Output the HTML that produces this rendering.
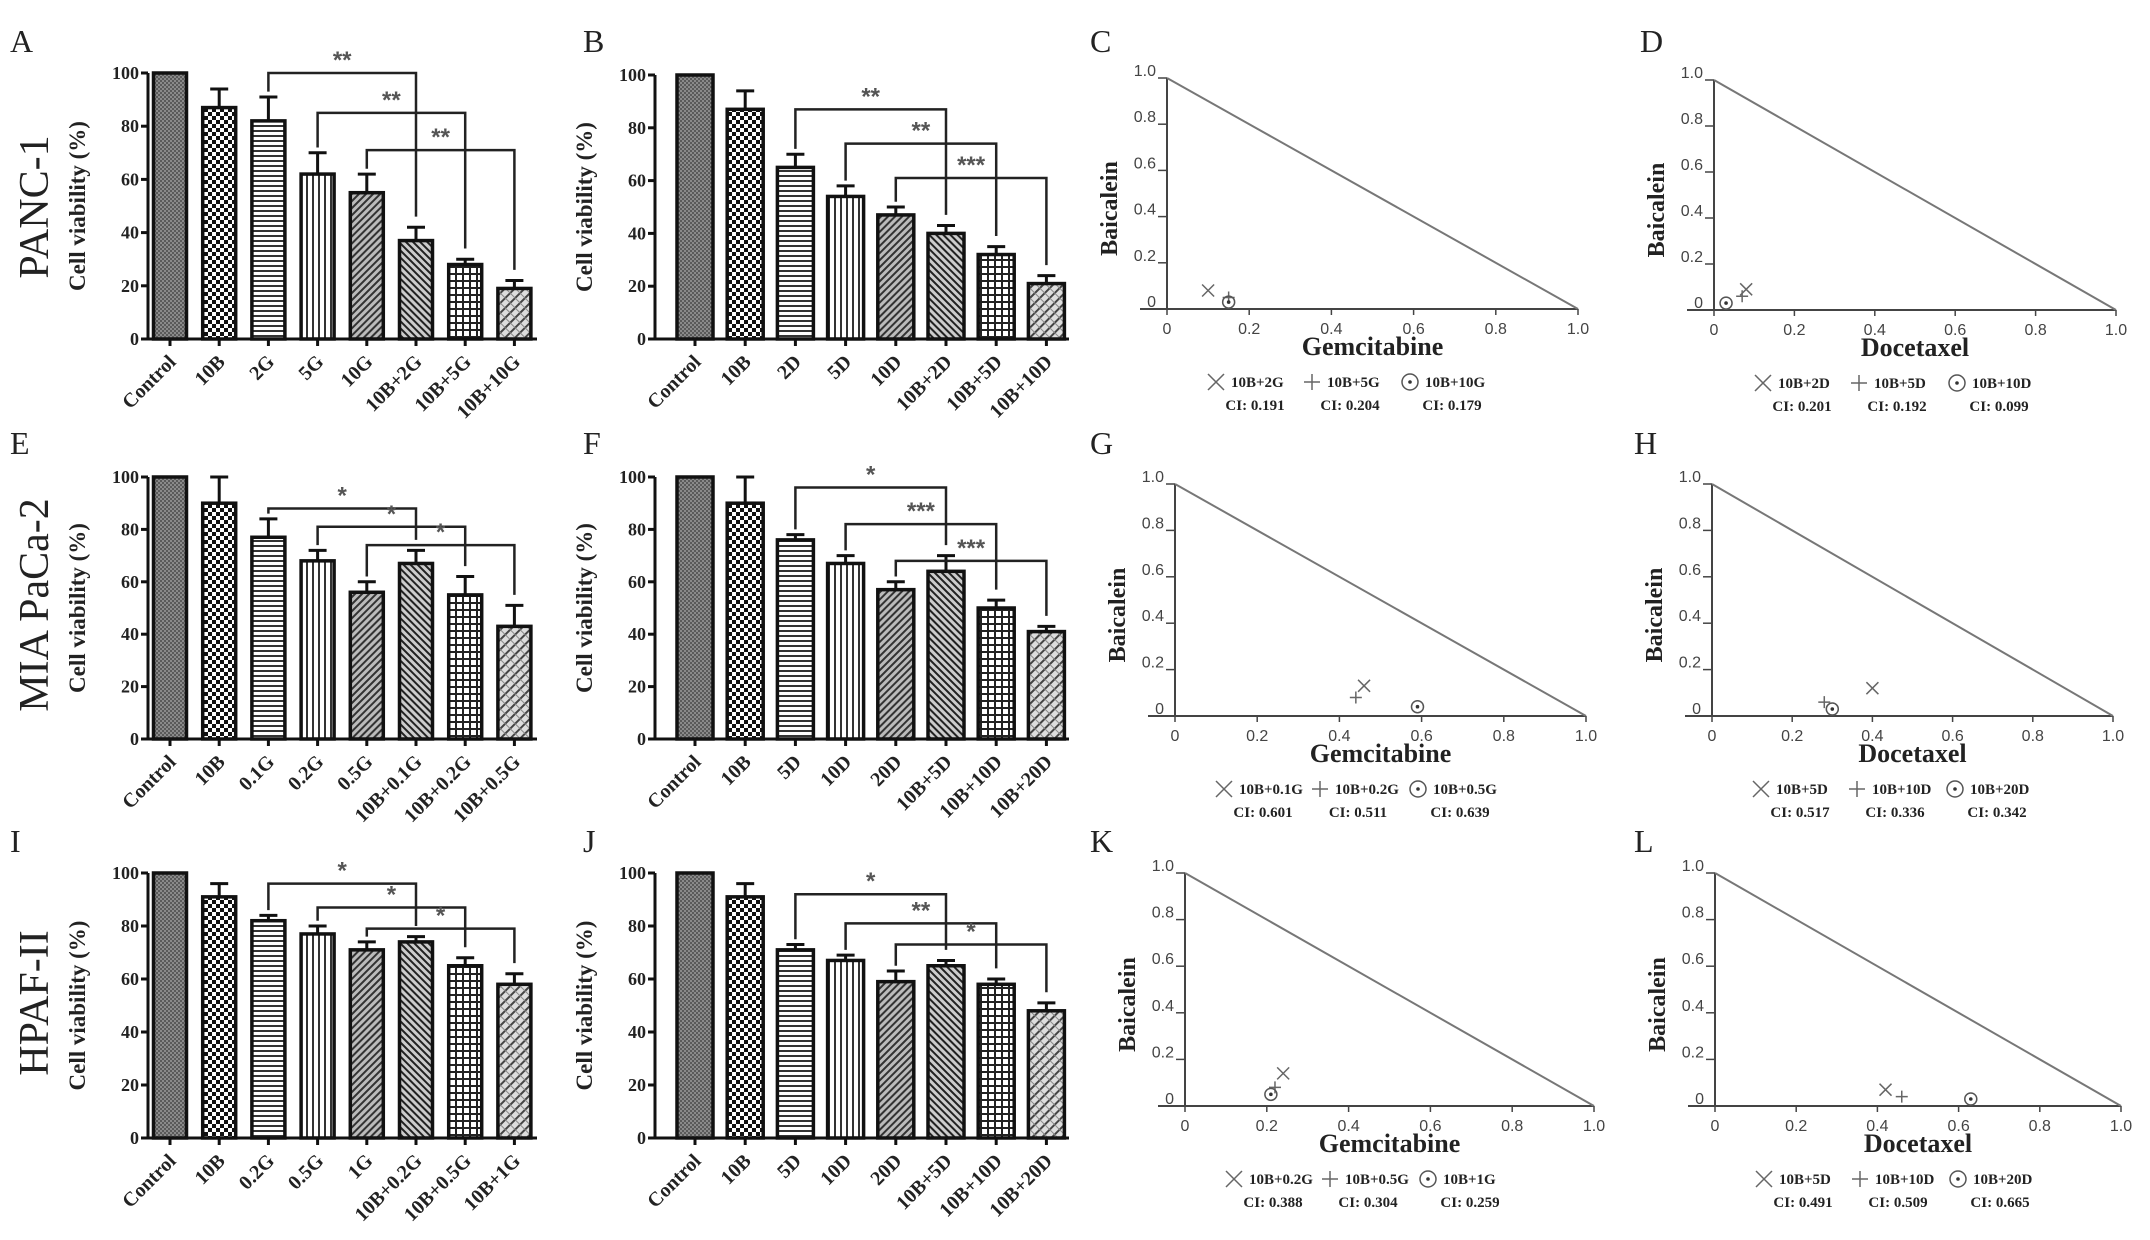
<!DOCTYPE html>
<html><head><meta charset="utf-8">
<style>
html,body{margin:0;padding:0;background:#fff;}
svg{display:block;}
</style></head>
<body>
<svg id="fig" width="2150" height="1240" viewBox="0 0 2150 1240" xmlns="http://www.w3.org/2000/svg">
<defs>
<pattern id="p0" width="4" height="4" patternUnits="userSpaceOnUse"><rect width="4" height="4" fill="#8a8a8a"/><rect width="2" height="2" fill="#5a5a5a"/><rect x="2" y="2" width="2" height="2" fill="#5a5a5a"/></pattern>
<pattern id="p1" width="8" height="8" patternUnits="userSpaceOnUse"><rect width="8" height="8" fill="#fff"/><rect width="4" height="4" fill="#111"/><rect x="4" y="4" width="4" height="4" fill="#111"/></pattern>
<pattern id="p2" width="6" height="5" patternUnits="userSpaceOnUse"><rect width="6" height="5" fill="#fff"/><rect width="6" height="2" fill="#333"/></pattern>
<pattern id="p3" width="6" height="6" patternUnits="userSpaceOnUse"><rect width="6" height="6" fill="#fff"/><rect width="2" height="6" fill="#333"/></pattern>
<pattern id="p4" width="5" height="5" patternUnits="userSpaceOnUse" patternTransform="rotate(45)"><rect width="5" height="5" fill="#bbb"/><rect width="2" height="5" fill="#333"/></pattern>
<pattern id="p5" width="5" height="5" patternUnits="userSpaceOnUse" patternTransform="rotate(-45)"><rect width="5" height="5" fill="#ccc"/><rect width="2" height="5" fill="#222"/></pattern>
<pattern id="p6" width="7" height="7" patternUnits="userSpaceOnUse"><rect width="7" height="7" fill="#fff"/><rect width="2" height="7" fill="#222"/><rect width="7" height="2" fill="#222"/></pattern>
<pattern id="p7" width="7" height="7" patternUnits="userSpaceOnUse" patternTransform="rotate(45)"><rect width="7" height="7" fill="#ddd"/><rect width="2" height="7" fill="#444"/><rect width="7" height="1" fill="#888"/></pattern>
</defs>
<g id="root"></g>
</svg>
<script>
// ---------- bar chart data ----------
const catsA = ["Control","10B","2G","5G","10G","10B+2G","10B+5G","10B+10G"];
const valsA = [100,87,82,62,55,37,28,19];
const errA  = [0,7,9,8,7,5,2,3];
const sigA  = [[2,5,100,"**"],[3,6,85,"**"],[4,7,71,"**"]];

const catsB = ["Control","10B","2D","5D","10D","10B+2D","10B+5D","10B+10D"];
const valsB = [100,87,65,54,47,40,32,21];
const errB  = [0,7,5,4,3,3,3,3];
const sigB  = [[2,5,87,"**"],[3,6,74,"**"],[4,7,61,"***"]];

const catsE = ["Control","10B","0.1G","0.2G","0.5G","10B+0.1G","10B+0.2G","10B+0.5G"];
const valsE = [100,90,77,68,56,67,55,43];
const errE  = [0,10,7,4,4,5,7,8];
const sigE  = [[2,5,88,"*"],[3,6,81,"*"],[4,7,74,"*"]];

const catsF = ["Control","10B","5D","10D","20D","10B+5D","10B+10D","10B+20D"];
const valsF = [100,90,76,67,57,64,50,41];
const errF  = [0,10,2,3,3,6,3,2];
const sigF  = [[2,5,96,"*"],[3,6,82,"***"],[4,7,68,"***"]];

const catsI = ["Control","10B","0.2G","0.5G","1G","10B+0.2G","10B+0.5G","10B+1G"];
const valsI = [100,91,82,77,71,74,65,58];
const errI  = [0,5,2,3,3,2,3,4];
const sigI  = [[2,5,96,"*"],[3,6,87,"*"],[4,7,79,"*"]];

const catsJ = ["Control","10B","5D","10D","20D","10B+5D","10B+10D","10B+20D"];
const valsJ = [100,91,71,67,59,65,58,48];
const errJ  = [0,5,2,2,4,2,2,3];
const sigJ  = [[2,5,92,"*"],[3,6,81,"**"],[4,7,73,"*"]];

const yTicks = [0,20,40,60,80,100];

// ---------- isobologram data ----------
const isoTicks = [0,0.2,0.4,0.6,0.8,1.0];
const isoTickLabels = ["0","0.2","0.4","0.6","0.8","1.0"];
const isoC_x=[0.10,0.15,0.15], isoC_y=[0.08,0.05,0.03], isoC_lab=["10B+2G","10B+5G","10B+10G"], isoC_ci=["CI: 0.191","CI: 0.204","CI: 0.179"];
const isoD_x=[0.08,0.07,0.03], isoD_y=[0.09,0.06,0.03], isoD_lab=["10B+2D","10B+5D","10B+10D"], isoD_ci=["CI: 0.201","CI: 0.192","CI: 0.099"];
const isoG_x=[0.46,0.44,0.59], isoG_y=[0.13,0.08,0.04], isoG_lab=["10B+0.1G","10B+0.2G","10B+0.5G"], isoG_ci=["CI: 0.601","CI: 0.511","CI: 0.639"];
const isoH_x=[0.40,0.28,0.30], isoH_y=[0.12,0.06,0.03], isoH_lab=["10B+5D","10B+10D","10B+20D"], isoH_ci=["CI: 0.517","CI: 0.336","CI: 0.342"];
const isoK_x=[0.24,0.22,0.21], isoK_y=[0.14,0.08,0.05], isoK_lab=["10B+0.2G","10B+0.5G","10B+1G"], isoK_ci=["CI: 0.388","CI: 0.304","CI: 0.259"];
const isoL_x=[0.42,0.46,0.63], isoL_y=[0.07,0.04,0.03], isoL_lab=["10B+5D","10B+10D","10B+20D"], isoL_ci=["CI: 0.491","CI: 0.509","CI: 0.665"];

const NS="http://www.w3.org/2000/svg";
const root=document.getElementById('root');
function mk(tag,attrs,parent,txt){const e=document.createElementNS(NS,tag);for(const k in attrs)e.setAttribute(k,attrs[k]);if(txt!==undefined)e.textContent=txt;(parent||root).appendChild(e);return e;}
const SERIF='"Liberation Serif", serif', SANS='"Liberation Sans", sans-serif';

function barPanel(name,cats,vals,errs,sigs,L){
  const g=mk('g',{});
  
  
  const y=v=>L.y0-(v/100)*(L.y0-L.y100);
  const cx=i=>L.c0+i*L.sp;
  vals.forEach((v,i)=>{
    const r=mk('rect',{x:cx(i)-L.bw/2,y:y(v),width:L.bw,height:L.y0-y(v),fill:'url(#p'+i+')',stroke:'#111','stroke-width':3.5},g);
    
    
    if(errs[i]>0){
      mk('line',{x1:cx(i),x2:cx(i),y1:y(v),y2:y(v+errs[i]),stroke:'#111','stroke-width':3},g);
      mk('line',{x1:cx(i)-9,x2:cx(i)+9,y1:y(v+errs[i]),y2:y(v+errs[i]),stroke:'#111','stroke-width':3},g);
    }
  });
  mk('line',{x1:L.ax,x2:L.ax,y1:L.y100,y2:L.y0,stroke:'#111','stroke-width':3},g);
  mk('line',{x1:L.ax,x2:L.xEnd,y1:L.y0,y2:L.y0,stroke:'#111','stroke-width':3},g);
  yTicks.forEach(t=>{
    mk('line',{x1:L.ax-7,x2:L.ax,y1:y(t),y2:y(t),stroke:'#111','stroke-width':3},g);
    mk('text',{x:L.ax-9,y:y(t)+6,'text-anchor':'end','font-family':SERIF,'font-weight':'bold','font-size':18,fill:'#222'},g,String(t));
  });
  cats.forEach((c,i)=>{
    mk('line',{x1:cx(i),x2:cx(i),y1:L.y0,y2:L.y0+7,stroke:'#111','stroke-width':3},g);
    const t=mk('text',{x:cx(i)+7,y:L.y0+24,'text-anchor':'end','font-family':SERIF,'font-weight':'bold','font-size':20,fill:'#222',transform:`rotate(-45 ${cx(i)+7} ${L.y0+24})`},g,c);
    
    
  });
  const tx=L.ax-63, ty=(L.y0+L.y100)/2;
  const yt=mk('text',{x:tx,y:ty,'text-anchor':'middle','font-family':SERIF,'font-weight':'bold','font-size':23,fill:'#222',transform:`rotate(-90 ${tx} ${ty})`},g,'Cell viability (%)');
  
  
  sigs.forEach(s=>{
    const [i,j,lev,lab]=s;
    const yl=y(lev);
    const b=mk('path',{d:`M${cx(i)},${y(vals[i]+errs[i]+2)}V${yl}H${cx(j)}V${y(vals[j]+errs[j]+4)}`,fill:'none',stroke:'#222','stroke-width':2.5},g);
    
    
    mk('text',{x:(cx(i)+cx(j))/2,y:yl-5,'text-anchor':'middle','font-family':SANS,'font-weight':'bold','font-size':24,fill:'#555'},g,lab);
  });
}

function isoPanel(name,xs,ys,labs,cis,xlabel,L){
  const g=mk('g',{});
  
  
  const X=v=>L.x0+v*(L.x1-L.x0);
  const Y=v=>L.y0-v*(L.y0-L.y1);
  mk('line',{x1:X(0),x2:X(0),y1:Y(1),y2:Y(0),stroke:'#444','stroke-width':2},g);
  mk('line',{x1:X(0)-27,x2:X(1),y1:Y(0),y2:Y(0),stroke:'#444','stroke-width':2},g);
  const ln=mk('line',{x1:X(0),y1:Y(1),x2:X(1),y2:Y(0),stroke:'#777','stroke-width':2},g);
  
  
  isoTicks.forEach((t,k)=>{
    if(k>0){mk('line',{x1:X(0)-9,x2:X(0),y1:Y(t),y2:Y(t),stroke:'#444','stroke-width':1.5},g);}
    mk('text',{x:X(0)-11,y:Y(t)-2,'text-anchor':'end','font-family':SANS,'font-size':16,fill:'#444'},g,isoTickLabels[k]);
    mk('line',{x1:X(t),x2:X(t),y1:Y(0),y2:Y(0)+6,stroke:'#444','stroke-width':1.5},g);
    mk('text',{x:X(t),y:Y(0)+25,'text-anchor':'middle','font-family':SANS,'font-size':16,fill:'#444'},g,isoTickLabels[k]);
  });
  const xt=mk('text',{x:(X(0)+X(1))/2,y:Y(0)+46,'text-anchor':'middle','font-family':SERIF,'font-weight':'bold','font-size':26,fill:'#222'},g,xlabel);
  
  
  const yx=X(0)-50, yy=(Y(0)+Y(1))/2+15;
  const ytt=mk('text',{x:yx,y:yy,'text-anchor':'middle','font-family':SERIF,'font-weight':'bold','font-size':24,fill:'#222',transform:`rotate(-90 ${yx} ${yy})`},g,'Baicalein');
  
  
  function marker(k,px,py,s){
    if(k===0){mk('path',{d:`M${px-s},${py-s}L${px+s},${py+s}M${px-s},${py+s}L${px+s},${py-s}`,stroke:'#666','stroke-width':1.5,fill:'none'},g);}
    else if(k===1){mk('path',{d:`M${px-s},${py}H${px+s}M${px},${py-s}V${py+s}`,stroke:'#666','stroke-width':1.5,fill:'none'},g);}
    else {mk('circle',{cx:px,cy:py,r:s,stroke:'#555','stroke-width':1.5,fill:'none'},g);mk('circle',{cx:px,cy:py,r:1.8,fill:'#333'},g);}
  }
  xs.forEach((v,k)=>{
    const p=mk('g',{},g);
    
    
    marker(k,X(v),Y(ys[k]),6);
  });
  const lx=[X(0)+49,X(0)+145,X(0)+243];
  const cix=[X(0)+88,X(0)+183,X(0)+285];
  labs.forEach((lab,k)=>{
    const lg=mk('g',{},g);
    
    
    marker(k,lx[k],Y(0)+73,8);
    mk('text',{x:lx[k]+15,y:Y(0)+78,'font-family':SERIF,'font-weight':'bold','font-size':15,fill:'#222'},g,lab);
    mk('text',{x:cix[k],y:Y(0)+101,'text-anchor':'middle','font-family':SERIF,'font-weight':'bold','font-size':15,fill:'#222'},g,cis[k]);
  });
}

const LA={ax:148,c0:170,sp:49.2,bw:33,y0:339,y100:73,xEnd:537};
const LB={ax:655,c0:695,sp:50.2,bw:36,y0:339,y100:75,xEnd:1069};
barPanel('bar-chart-a',catsA,valsA,errA,sigA,LA);
barPanel('bar-chart-b',catsB,valsB,errB,sigB,LB);
barPanel('bar-chart-e',catsE,valsE,errE,sigE,Object.assign({},LA,{y0:739,y100:477}));
barPanel('bar-chart-f',catsF,valsF,errF,sigF,Object.assign({},LB,{y0:739,y100:477}));
barPanel('bar-chart-i',catsI,valsI,errI,sigI,Object.assign({},LA,{y0:1138,y100:873}));
barPanel('bar-chart-j',catsJ,valsJ,errJ,sigJ,Object.assign({},LB,{y0:1138,y100:873}));

isoPanel('isobologram-c',isoC_x,isoC_y,isoC_lab,isoC_ci,'Gemcitabine',{x0:1167,x1:1578,y0:309,y1:78});
isoPanel('isobologram-d',isoD_x,isoD_y,isoD_lab,isoD_ci,'Docetaxel',{x0:1714,x1:2116,y0:310,y1:80});
isoPanel('isobologram-g',isoG_x,isoG_y,isoG_lab,isoG_ci,'Gemcitabine',{x0:1175,x1:1586,y0:716,y1:484});
isoPanel('isobologram-h',isoH_x,isoH_y,isoH_lab,isoH_ci,'Docetaxel',{x0:1712,x1:2113,y0:716,y1:484});
isoPanel('isobologram-k',isoK_x,isoK_y,isoK_lab,isoK_ci,'Gemcitabine',{x0:1185,x1:1594,y0:1106,y1:873});
isoPanel('isobologram-l',isoL_x,isoL_y,isoL_lab,isoL_ci,'Docetaxel',{x0:1715,x1:2121,y0:1106,y1:873});

const letters=[["A",10,52],["B",583,52],["C",1090,52],["D",1640,52],["E",10,454],["F",583,454],["G",1090,454],["H",1634,454],["I",10,852],["J",583,852],["K",1090,852],["L",1634,852]];
letters.forEach(l=>{
  const t=mk('text',{x:l[1],y:l[2],'font-family':SERIF,'font-size':32,fill:'#222'},root,l[0]);
  
  
});
const rows=[["PANC-1",207],["MIA PaCa-2",605],["HPAF-II",1003]];
rows.forEach(r=>{
  const t=mk('text',{x:48,y:r[1],'text-anchor':'middle','font-family':SERIF,'font-size':42,fill:'#222',transform:`rotate(-90 48 ${r[1]})`},root,r[0]);
  
  
});
</script>
</body></html>
